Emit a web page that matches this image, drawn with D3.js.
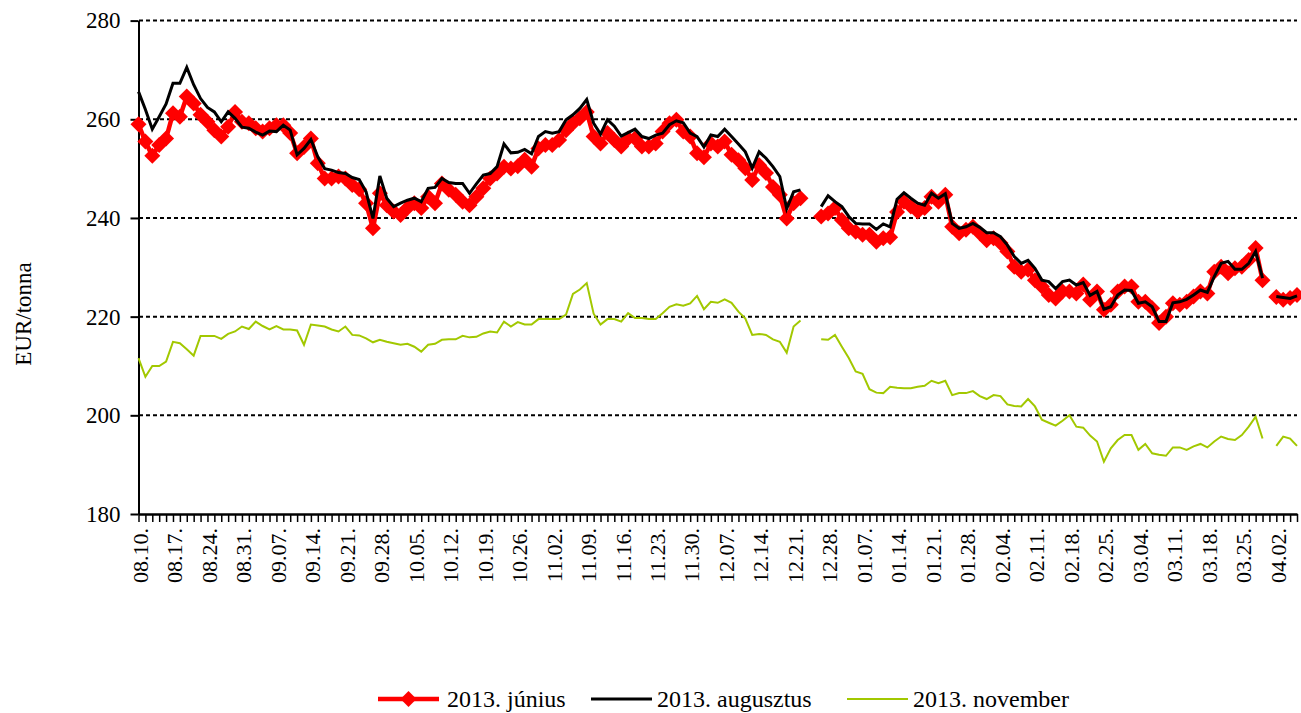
<!DOCTYPE html>
<html>
<head>
<meta charset="utf-8">
<script src="https://cdn.jsdelivr.net/npm/d3@7"></script>
<style>
  body { margin: 0; background: #fff; }
  svg text { font-family: "Liberation Serif", "Times New Roman", serif; fill: #000; }
</style>
</head>
<body>
<svg id="chart" width="1301" height="713"></svg>
<script>
// Trading days: weekdays from 2012-08-10, 2013-01-01 and 2013-04-01 not listed
const startDay = new Date(2012, 7, 10);
const skipDays = ["2013-01-01", "2013-04-01"];
const dayCount = 169;

// EUR/tonna, one value per trading day (null = no quote)
const june = [
  259.0, 255.5, 252.6, 254.8, 256.1, 261.2, 260.5, 264.6, 263.2, 260.9,
  259.5, 257.8, 256.5, 258.5, 261.5, 259.5, 259.2, 258.2, 257.5, 258.2,
  258.8, 258.8, 257.2, 253.1, 254.4, 256.1, 251.1, 248.0, 248.0, 248.4,
  248.0, 246.7, 245.8, 243.0, 237.9, 245.0, 242.6, 241.3, 240.6, 242.0,
  243.0, 242.0, 244.3, 243.0, 247.0, 245.7, 244.7, 243.3, 242.6, 244.3,
  246.0, 248.0, 249.0, 250.4, 250.0, 250.5, 251.8, 250.4, 254.1, 254.8,
  254.8, 255.8, 257.8, 259.2, 260.2, 261.5, 256.5, 255.1, 257.2, 255.8,
  254.5, 256.1, 256.1, 254.5, 254.5, 255.1, 257.5, 259.2, 259.9, 257.5,
  256.5, 253.1, 252.3, 255.1, 254.5, 255.5, 252.8, 251.7, 250.1, 247.7,
  250.7, 249.1, 246.3, 244.7, 239.9, 243.0, 244.0, null, null, 240.3,
  240.9, 242.0, 239.6, 237.9, 237.2, 236.6, 236.6, 235.2, 235.9, 236.1,
  241.2, 243.3, 242.3, 241.3, 242.0, 244.3, 243.3, 244.7, 238.2, 236.9,
  237.6, 238.2, 236.9, 235.5, 235.9, 234.9, 233.2, 230.1, 229.1, 229.5,
  227.4, 226.1, 224.4, 223.7, 225.1, 225.1, 224.7, 226.5, 223.4, 225.1,
  221.4, 222.4, 225.1, 226.1, 226.1, 223.0, 223.0, 221.7, 218.7, 220.0,
  222.7, 222.4, 223.0, 224.1, 225.1, 224.7, 229.1, 230.1, 228.8, 229.8,
  230.1, 231.5, 233.9, 227.4, null, 224.0, 223.4, 223.8, 224.4
];
const august = [
  265.6, 262.0, 258.0, 260.5, 263.1, 267.3, 267.3, 270.5, 267.0, 264.2,
  262.4, 261.5, 259.5, 261.5, 260.2, 258.4, 258.2, 257.4, 256.8, 257.6,
  257.5, 258.8, 257.8, 252.8, 254.1, 255.9, 252.4, 250.0, 249.7, 249.2,
  249.0, 248.2, 247.8, 245.3, 239.9, 248.5, 244.0, 242.3, 243.0, 243.6,
  244.0, 243.3, 246.0, 246.2, 248.0, 247.2, 247.0, 247.0, 245.0, 246.9,
  248.7, 249.0, 250.4, 255.0, 253.2, 253.3, 253.9, 253.0, 256.5, 257.5,
  257.2, 257.5, 259.9, 260.9, 262.2, 264.0, 259.2, 257.0, 259.9, 258.6,
  256.6, 257.3, 258.0, 256.5, 256.1, 256.8, 257.2, 258.9, 259.7, 259.3,
  257.2, 256.5, 254.4, 256.8, 256.5, 258.0, 256.5, 255.0, 253.4, 250.1,
  253.4, 252.1, 250.4, 248.4, 241.9, 245.3, 245.7, null, null, 242.3,
  244.5, 243.3, 242.3, 240.3, 238.9, 238.8, 238.8, 237.7, 238.8, 238.2,
  243.8, 245.1, 244.0, 243.0, 242.6, 245.0, 244.0, 244.9, 238.9, 237.9,
  238.2, 238.9, 238.1, 237.0, 237.0, 236.2, 234.5, 232.2, 230.8, 231.4,
  229.8, 227.4, 227.1, 225.7, 227.1, 227.4, 226.4, 226.9, 224.3, 225.1,
  221.5, 222.0, 224.4, 225.4, 225.3, 222.7, 223.0, 222.0, 219.0, 219.0,
  222.8, 223.0, 223.5, 224.4, 225.4, 224.9, 228.1, 230.8, 231.2, 229.6,
  229.6, 230.8, 233.2, 227.8, null, 224.1, 223.9, 223.7, 224.2
];
const november = [
  211.6, 207.8, 210.0, 210.0, 210.9, 214.9, 214.6, 213.4, 212.1, 216.1,
  216.1, 216.1, 215.5, 216.5, 217.0, 218.0, 217.5, 219.0, 218.1, 217.4,
  218.1, 217.4, 217.4, 217.2, 214.3, 218.4, 218.2, 218.0, 217.4, 217.0,
  218.0, 216.3, 216.2, 215.6, 214.8, 215.3, 214.9, 214.6, 214.3, 214.5,
  213.9, 212.9, 214.3, 214.5, 215.3, 215.4, 215.4, 216.1, 215.8, 215.9,
  216.6, 217.0, 216.8, 219.0, 218.0, 218.9, 218.4, 218.4, 219.5, 219.5,
  219.5, 219.5, 220.4, 224.6, 225.5, 226.8, 220.6, 218.4, 219.5, 219.5,
  219.0, 220.7, 219.7, 219.7, 219.5, 219.5, 220.7, 222.0, 222.5, 222.2,
  222.7, 224.2, 221.5, 223.0, 222.8, 223.5, 222.8, 221.0, 219.6, 216.3,
  216.5, 216.3, 215.4, 214.9, 212.7, 218.0, 219.2, null, null, 215.4,
  215.3, 216.3, 213.9, 211.6, 208.9, 208.4, 205.3, 204.6, 204.5, 205.8,
  205.6, 205.5, 205.5, 205.8, 206.0, 207.0, 206.5, 207.0, 204.1, 204.5,
  204.5, 204.9, 203.9, 203.3, 204.1, 203.9, 202.2, 201.9, 201.8, 203.3,
  201.8, 199.1, 198.5, 197.9, 198.9, 200.0, 197.7, 197.5, 195.9, 194.7,
  190.6, 193.3, 195.0, 196.0, 196.0, 193.0, 194.2, 192.3, 192.0, 191.8,
  193.5, 193.5, 193.0, 193.7, 194.2, 193.5, 194.7, 195.7, 195.2, 195.0,
  196.0, 197.7, 199.7, 195.3, null, 193.8, 195.7, 195.3, 193.8
];
const yTicks = [180, 200, 220, 240, 260, 280];
const series = [
  { name: "2013. június", values: june, color: "#ff0000", width: 4.5, marker: true },
  { name: "2013. augusztus", values: august, color: "#000000", width: 3, marker: false },
  { name: "2013. november", values: november, color: "#a2c800", width: 2, marker: false }
];

// build the list of trading days
const fmtKey = d3.timeFormat("%Y-%m-%d");
const fmtLabel = d3.timeFormat("%m.%d.");
const days = [];
for (let d = new Date(startDay); days.length < dayCount; d = d3.timeDay.offset(d, 1)) {
  const wd = d.getDay();
  if (wd === 0 || wd === 6) continue;
  if (skipDays.includes(fmtKey(d))) continue;
  days.push(new Date(d));
}

const svg = d3.select("#chart");
const x = d3.scalePoint().domain(d3.range(days.length)).range([138.5, 1297]);
const y = d3.scaleLinear().domain([180, 280]).range([514, 20.6]);

// grid
svg.append("g")
  .selectAll("line")
  .data(yTicks.filter(v => v > 180))
  .join("line")
  .attr("x1", 139).attr("x2", 1297)
  .attr("y1", d => y(d)).attr("y2", d => y(d))
  .attr("stroke", "#000").attr("stroke-width", 2).attr("stroke-dasharray", "4,3");

// y axis
const yAxis = svg.append("g")
  .attr("transform", "translate(138.5,0)")
  .call(d3.axisLeft(y).tickValues(yTicks).tickSize(8).tickPadding(10).tickSizeOuter(0));
yAxis.select(".domain").attr("stroke-width", 2);
yAxis.selectAll(".tick line").attr("stroke-width", 2);
yAxis.selectAll("text").attr("font-size", 23).attr("font-family", null);

// x axis
const xAxis = svg.append("g")
  .attr("transform", "translate(0,514)")
  .call(d3.axisBottom(x).tickSize(8).tickSizeOuter(0)
    .tickFormat(i => i % 5 === 0 ? fmtLabel(days[i]) : ""));
xAxis.select(".domain").attr("stroke-width", 2.5);
xAxis.selectAll(".tick line").attr("stroke-width", 1.5);
xAxis.selectAll("text")
  .attr("font-size", 22).attr("font-family", null)
  .attr("transform", "rotate(-90)")
  .attr("x", -14).attr("y", 0).attr("dy", "0.4em")
  .style("text-anchor", "end");

// y title
svg.append("text")
  .attr("transform", "translate(31,314) rotate(-90)")
  .attr("text-anchor", "middle")
  .attr("font-size", 23)
  .text("EUR/tonna");

// lines
const line = d3.line()
  .defined(d => d != null)
  .x((d, i) => x(i))
  .y(d => y(d));

const diamond = r => `M0,${-r}L${r},0L0,${r}L${-r},0Z`;

series.forEach(s => {
  svg.append("path")
    .datum(s.values)
    .attr("fill", "none")
    .attr("stroke", s.color)
    .attr("stroke-width", s.width)
    .attr("stroke-linejoin", "miter")
    .attr("d", line);
  if (s.marker) {
    svg.append("g")
      .selectAll("path")
      .data(s.values.map((v, i) => [i, v]).filter(d => d[1] != null))
      .join("path")
      .attr("transform", d => `translate(${x(d[0])},${y(d[1])})`)
      .attr("d", diamond(8))
      .attr("fill", s.color);
  }
});

// legend
const legendItems = [
  { x0: 378, tx: 447 },
  { x0: 591, tx: 657 },
  { x0: 847, tx: 913 }
];
const legend = svg.append("g");
series.forEach((s, k) => {
  const p = legendItems[k];
  legend.append("line")
    .attr("x1", p.x0).attr("x2", p.x0 + 61)
    .attr("y1", 699).attr("y2", 699)
    .attr("stroke", s.color).attr("stroke-width", s.width);
  if (s.marker) {
    legend.append("path")
      .attr("transform", `translate(${p.x0 + 30.5},699)`)
      .attr("d", diamond(8))
      .attr("fill", s.color);
  }
  legend.append("text")
    .attr("x", p.tx).attr("y", 707)
    .attr("font-size", 24)
    .text(s.name);
});
</script>
</body>
</html>
